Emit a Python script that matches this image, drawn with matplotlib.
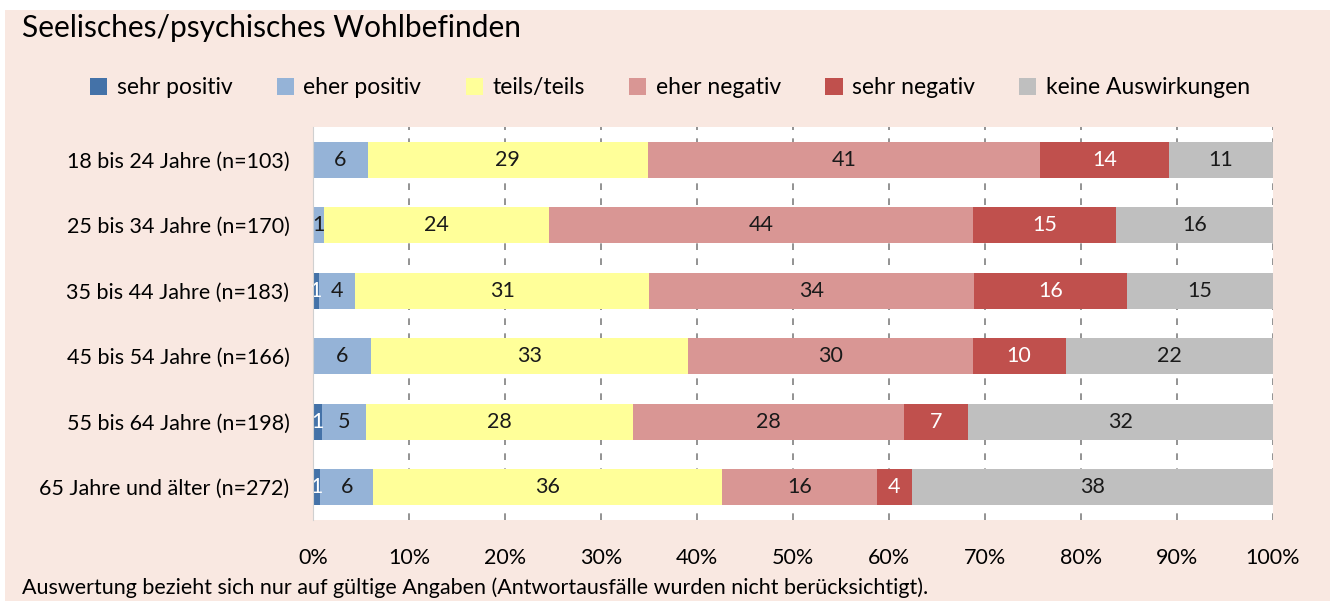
import numpy as np
import matplotlib
matplotlib.use("Agg")
import matplotlib.pyplot as plt
import matplotlib.patches as mpatch

plt.rcParams['font.family'] = ['Lato', 'DejaVu Sans']

title = "Seelisches/psychisches Wohlbefinden"
footnote = "Auswertung bezieht sich nur auf gültige Angaben (Antwortausfälle wurden nicht berücksichtigt)."

groups = ["18 bis 24 Jahre (n=103)", "25 bis 34 Jahre (n=170)", "35 bis 44 Jahre (n=183)",
          "45 bis 54 Jahre (n=166)", "55 bis 64 Jahre (n=198)", "65 Jahre und älter (n=272)"]
series = ["sehr positiv", "eher positiv", "teils/teils", "eher negativ", "sehr negativ",
          "keine Auswirkungen"]

sehr_positiv = [0.0, 0.0, 0.6, 0.0, 0.9, 0.7]
eher_positiv = [5.7, 1.1, 3.8, 6.0, 4.6, 5.6]
teils_teils = [29.2, 23.5, 30.6, 33.1, 27.8, 36.3]
eher_negativ = [40.8, 44.2, 33.9, 29.6, 28.3, 16.1]
sehr_negativ = [13.5, 14.8, 15.9, 9.7, 6.6, 3.7]
keine = [10.8, 16.4, 15.2, 21.6, 31.8, 37.6]

values = [sehr_positiv, eher_positiv, teils_teils, eher_negativ, sehr_negativ, keine]
colors = ["#4472A8", "#95B3D7", "#FFFF99", "#D99694", "#C0504D", "#BFBFBF"]
text_colors = ["white", "#1a1a1a", "#1a1a1a", "#1a1a1a", "white", "#1a1a1a"]

W, H = 1330, 601
fig = plt.figure(figsize=(W / 100, H / 100), dpi=100, facecolor="white")
# pink panel (a thin white band stays at the top and left)
fig.patches.append(mpatch.Rectangle((5 / W, 0), 1, 1 - 10 / H, transform=fig.transFigure,
                                    facecolor="#F9E8E1", edgecolor="none", zorder=-5))

ax = fig.add_axes([313 / W, 1 - 520 / H, 960 / W, 393 / H])
ax.set_facecolor("white")

y = np.arange(len(groups))
left = np.zeros(len(groups))
for name, vals, c, tc in zip(series, values, colors, text_colors):
    vals = np.array(vals)
    ax.barh(y, vals, left=left, height=0.55, color=c, label=name, zorder=3)
    for yi, l, v in zip(y, left, vals):
        if v > 0:
            ax.text(l + v / 2, yi, str(int(v + 0.5)), ha="center", va="center",
                    fontsize=15.5, color=tc, zorder=4)
    left += vals

ax.set_xlim(0, 100)
ax.set_ylim(len(groups) - 0.5, -0.5)
ax.set_xticks(np.arange(0, 101, 10))
ax.set_xticklabels([f"{t}%" for t in range(0, 101, 10)], fontsize=15.5)
ax.set_yticks(y)
ax.set_yticklabels(groups, fontsize=15.5)
ax.tick_params(axis="both", length=0)
ax.tick_params(axis="y", pad=17)
ax.tick_params(axis="x", pad=20)
ax.grid(axis="x", color="#808080", linestyle=(0, (4, 5)), linewidth=1.2, zorder=1)
for s in ["top", "right", "bottom"]:
    ax.spines[s].set_visible(False)
ax.spines["left"].set_color("#D0D0D0")
ax.spines["left"].set_zorder(5)

fig.text(22 / W, 1 - 28 / H, title, fontsize=21.5, va="center", ha="left")
fig.legend(loc="center", bbox_to_anchor=(670 / W, 1 - 88 / H), ncol=6, frameon=False,
           fontsize=16.5, handlelength=0.75, handleheight=0.75, handletextpad=0.4,
           columnspacing=1.95)
fig.text(22 / W, 1 - 588 / H, footnote, fontsize=15.5, va="center", ha="left")

fig.savefig("out.png", dpi=100, facecolor=fig.get_facecolor())
